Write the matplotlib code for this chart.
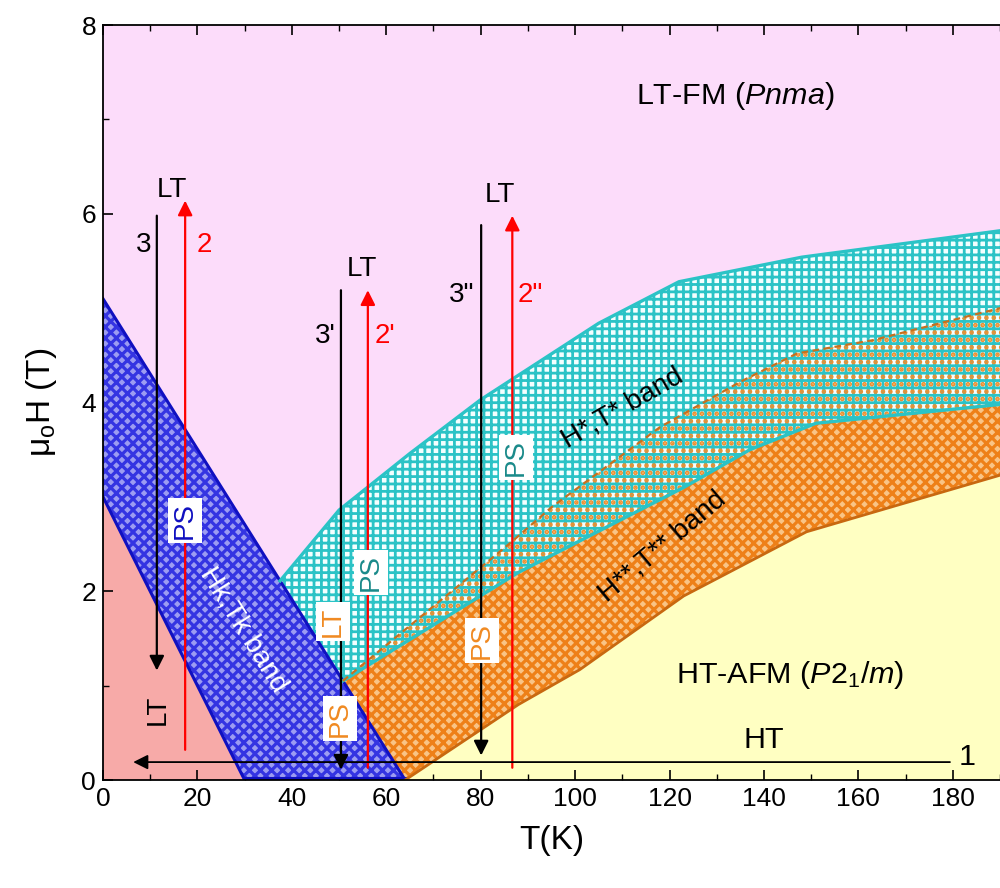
import matplotlib
matplotlib.use("Agg")
import matplotlib.pyplot as plt
from matplotlib.ticker import MultipleLocator

plt.rcParams['font.family'] = ['Liberation Sans', 'DejaVu Sans']
plt.rcParams['mathtext.fontset'] = 'custom'
plt.rcParams['mathtext.rm'] = 'Liberation Sans'
plt.rcParams['mathtext.it'] = 'Liberation Sans:italic'

# ---- datos del diagrama (T en K, mu0H en T)
T_blue_hi = [0, 64]
H_blue_hi = [5.1, 0]
T_blue_lo = [0, 30]
H_blue_lo = [3.0, 0]

T_cyan_top = [37.5, 50, 65, 80, 105, 122, 148, 190]
H_cyan_top = [2.11, 2.86, 3.46, 4.03, 4.84, 5.28, 5.54, 5.82]
T_cyan_low = [50.8, 88, 123, 137, 151, 190]
H_cyan_low = [1.05, 2.2, 3.1, 3.5, 3.78, 3.98]

T_or_top = [50.8, 86, 95, 118, 135, 147, 163, 190]
H_or_top = [1.05, 2.5, 2.89, 3.74, 4.22, 4.52, 4.66, 5.0]
T_or_low = [64, 88, 101, 123, 149, 190]
H_or_low = [0, 0.8, 1.17, 1.95, 2.63, 3.23]

# flechas verticales: (T, H inicio, H fin, color)
arrows_T = [11.4, 17.4, 50.4, 56.1, 80.1, 86.7]
arrows_H0 = [5.98, 0.32, 5.19, 0.13, 5.88, 0.13]
arrows_H1 = [1.16, 6.14, 0.11, 5.19, 0.26, 5.98]
arrows_c = ['black', 'red', 'black', 'red', 'black', 'red']

PINK = '#FCDCFA'
SALMON = '#F7AAA8'
YELLOW = '#FFFFC2'
CYAN = '#2BC3C6'
ORANGE = '#EE8018'

# dpi alto para que el patron del hatch salga mas grueso; S escala tamaños
DPI = 400 / 3
S = 0.75

fig = plt.figure(figsize=(1000 / DPI, 888 / DPI), dpi=DPI)
ax = fig.add_axes([0.103, 0.1216, 0.897, 0.8502])
ax.set_facecolor(PINK)
ax.set_xlim(0, 190)
ax.set_ylim(0, 8)

# zona amarilla (HT-AFM)
ax.fill(T_or_low + [190], H_or_low + [0], color=YELLOW, lw=0, zorder=1)
# zona salmon (LT)
ax.fill([0] + T_blue_lo, [0] + H_blue_lo, color=SALMON, lw=0, zorder=1)

# banda naranja
plt.rcParams['hatch.linewidth'] = 2.3 * S
ax.fill(T_or_top + T_or_low[::-1], H_or_top + H_or_low[::-1],
        facecolor='#F9C486', edgecolor=ORANGE, hatch='xxxx', lw=0, zorder=2)
# banda cian
plt.rcParams['hatch.linewidth'] = 2.0 * S
ax.fill(T_cyan_top + T_cyan_low[::-1], H_cyan_top + H_cyan_low[::-1],
        facecolor='#F4FFFF', edgecolor=CYAN, hatch='+++', lw=0, zorder=3)
# puntos naranja donde se solapan
plt.rcParams['hatch.linewidth'] = 2.2 * S
ax.fill(T_or_top + T_cyan_low[::-1], H_or_top + H_cyan_low[::-1],
        facecolor='none', edgecolor='#EE9030', hatch='...', lw=0, zorder=4)

# banda azul Hk,Tk
plt.rcParams['hatch.linewidth'] = 2.3 * S
ax.fill(T_blue_hi + T_blue_lo[::-1], H_blue_hi + H_blue_lo[::-1],
        facecolor='#9C9CF2', edgecolor='#3434E2', hatch='xxxx', lw=0, zorder=5)
ax.plot(T_blue_hi, H_blue_hi, color='#1010C0', lw=2.2 * S, zorder=6)
ax.plot(T_blue_lo, H_blue_lo, color='#1010C0', lw=2.2 * S, zorder=6)
ax.plot([30, 64], [0.02, 0.02], color='#1010C0', lw=2.2 * S, zorder=6)

ax.plot(T_cyan_top, H_cyan_top, color=CYAN, lw=2.4 * S, zorder=6)
ax.plot(T_cyan_low, H_cyan_low, color=CYAN, lw=2.4 * S, zorder=6)
ax.plot(T_or_top, H_or_top, color='#C8701E', lw=1.6 * S, ls=(0, (3, 2)), zorder=6)
ax.plot(T_or_low, H_or_low, color='#C86810', lw=2.0 * S, zorder=6)

# flechas
for t, h0, h1, c in zip(arrows_T, arrows_H0, arrows_H1, arrows_c):
    ax.annotate('', xy=(t, h1), xytext=(t, h0),
                arrowprops=dict(arrowstyle='-|>', color=c, lw=1.6 * S,
                                mutation_scale=22 * S, shrinkA=0, shrinkB=0),
                zorder=8)
ax.annotate('', xy=(6.4, 0.19), xytext=(179.4, 0.19),
            arrowprops=dict(arrowstyle='-|>', color='black', lw=1.3 * S,
                            mutation_scale=22 * S, shrinkA=0, shrinkB=0),
            zorder=8)

fs = 20 * S
ax.text(14.6, 6.25, 'LT', fontsize=fs, ha='center', va='center', zorder=9)
ax.text(8.7, 5.67, '3', fontsize=fs, ha='center', va='center', zorder=9)
ax.text(21.4, 5.67, '2', fontsize=fs, color='red', ha='center', va='center', zorder=9)
ax.text(11.6, 0.74, 'LT', fontsize=fs, rotation=90, ha='center', va='center', zorder=9)
ax.text(54.9, 5.42, 'LT', fontsize=fs, ha='center', va='center', zorder=9)
ax.text(47.0, 4.71, "3'", fontsize=fs, ha='center', va='center', zorder=9)
ax.text(59.7, 4.71, "2'", fontsize=fs, color='red', ha='center', va='center', zorder=9)
ax.text(84.1, 6.2, 'LT', fontsize=fs, ha='center', va='center', zorder=9)
ax.text(76.0, 5.14, '3"', fontsize=fs, ha='center', va='center', zorder=9)
ax.text(90.5, 5.14, '2"', fontsize=fs, color='red', ha='center', va='center', zorder=9)

box = dict(facecolor='white', edgecolor='none', pad=3 * S)
ax.text(17.4, 2.75, 'PS', fontsize=fs, color='#1010C0', rotation=90,
        ha='center', va='center', bbox=box, zorder=9)
ax.text(48.7, 1.68, 'LT', fontsize=fs, color='#F08A22', rotation=90,
        ha='center', va='center', bbox=box, zorder=9)
ax.text(56.8, 2.2, 'PS', fontsize=fs, color='#1A8A8A', rotation=90,
        ha='center', va='center', bbox=box, zorder=9)
ax.text(50.2, 0.65, 'PS', fontsize=fs, color='#F08A22', rotation=90,
        ha='center', va='center', bbox=box, zorder=9)
ax.text(87.5, 3.42, 'PS', fontsize=fs, color='#1A8A8A', rotation=90,
        ha='center', va='center', bbox=box, zorder=9)
ax.text(80.3, 1.48, 'PS', fontsize=fs, color='#F08A22', rotation=90,
        ha='center', va='center', bbox=box, zorder=9)

ax.text(29.7, 1.59, 'Hk,Tk band', fontsize=fs, color='white', rotation=-58,
        ha='center', va='center', rotation_mode='anchor', zorder=9)
ax.text(110, 3.94, 'H*,T* band', fontsize=fs, rotation=30,
        ha='center', va='center', rotation_mode='anchor', zorder=9)
ax.text(118.4, 2.47, 'H**,T** band', fontsize=fs, rotation=40,
        ha='center', va='center', rotation_mode='anchor', zorder=9)

ax.text(133.9, 7.25, 'LT-FM ($Pnma$)', fontsize=22 * S, ha='center', va='center', zorder=9)
ax.text(145.5, 1.11, 'HT-AFM ($P2_1/m$)', fontsize=22 * S, ha='center', va='center', zorder=9)
ax.text(140, 0.42, 'HT', fontsize=22 * S, ha='center', va='center', zorder=9)
ax.text(183, 0.24, '1', fontsize=22 * S, ha='center', va='center', zorder=9)

# ejes
ax.xaxis.set_major_locator(MultipleLocator(20))
ax.xaxis.set_minor_locator(MultipleLocator(10))
ax.yaxis.set_major_locator(MultipleLocator(2))
ax.yaxis.set_minor_locator(MultipleLocator(1))
ax.tick_params(which='both', direction='in', top=True, right=False,
               labelsize=19 * S, pad=5 * S)
ax.tick_params(which='major', length=7 * S, width=1.2 * S)
ax.tick_params(which='minor', length=4 * S, width=1.0 * S)
ax.spines['right'].set_visible(False)
for s in ['left', 'bottom', 'top']:
    ax.spines[s].set_linewidth(1.3 * S)
    ax.spines[s].set_zorder(10)

ax.set_xlabel('T(K)', fontsize=24 * S, labelpad=10 * S)
ax.set_ylabel('μ$_\\mathregular{o}$H (T)', fontsize=24 * S, labelpad=16 * S)

fig.savefig('out.png', dpi=DPI)
